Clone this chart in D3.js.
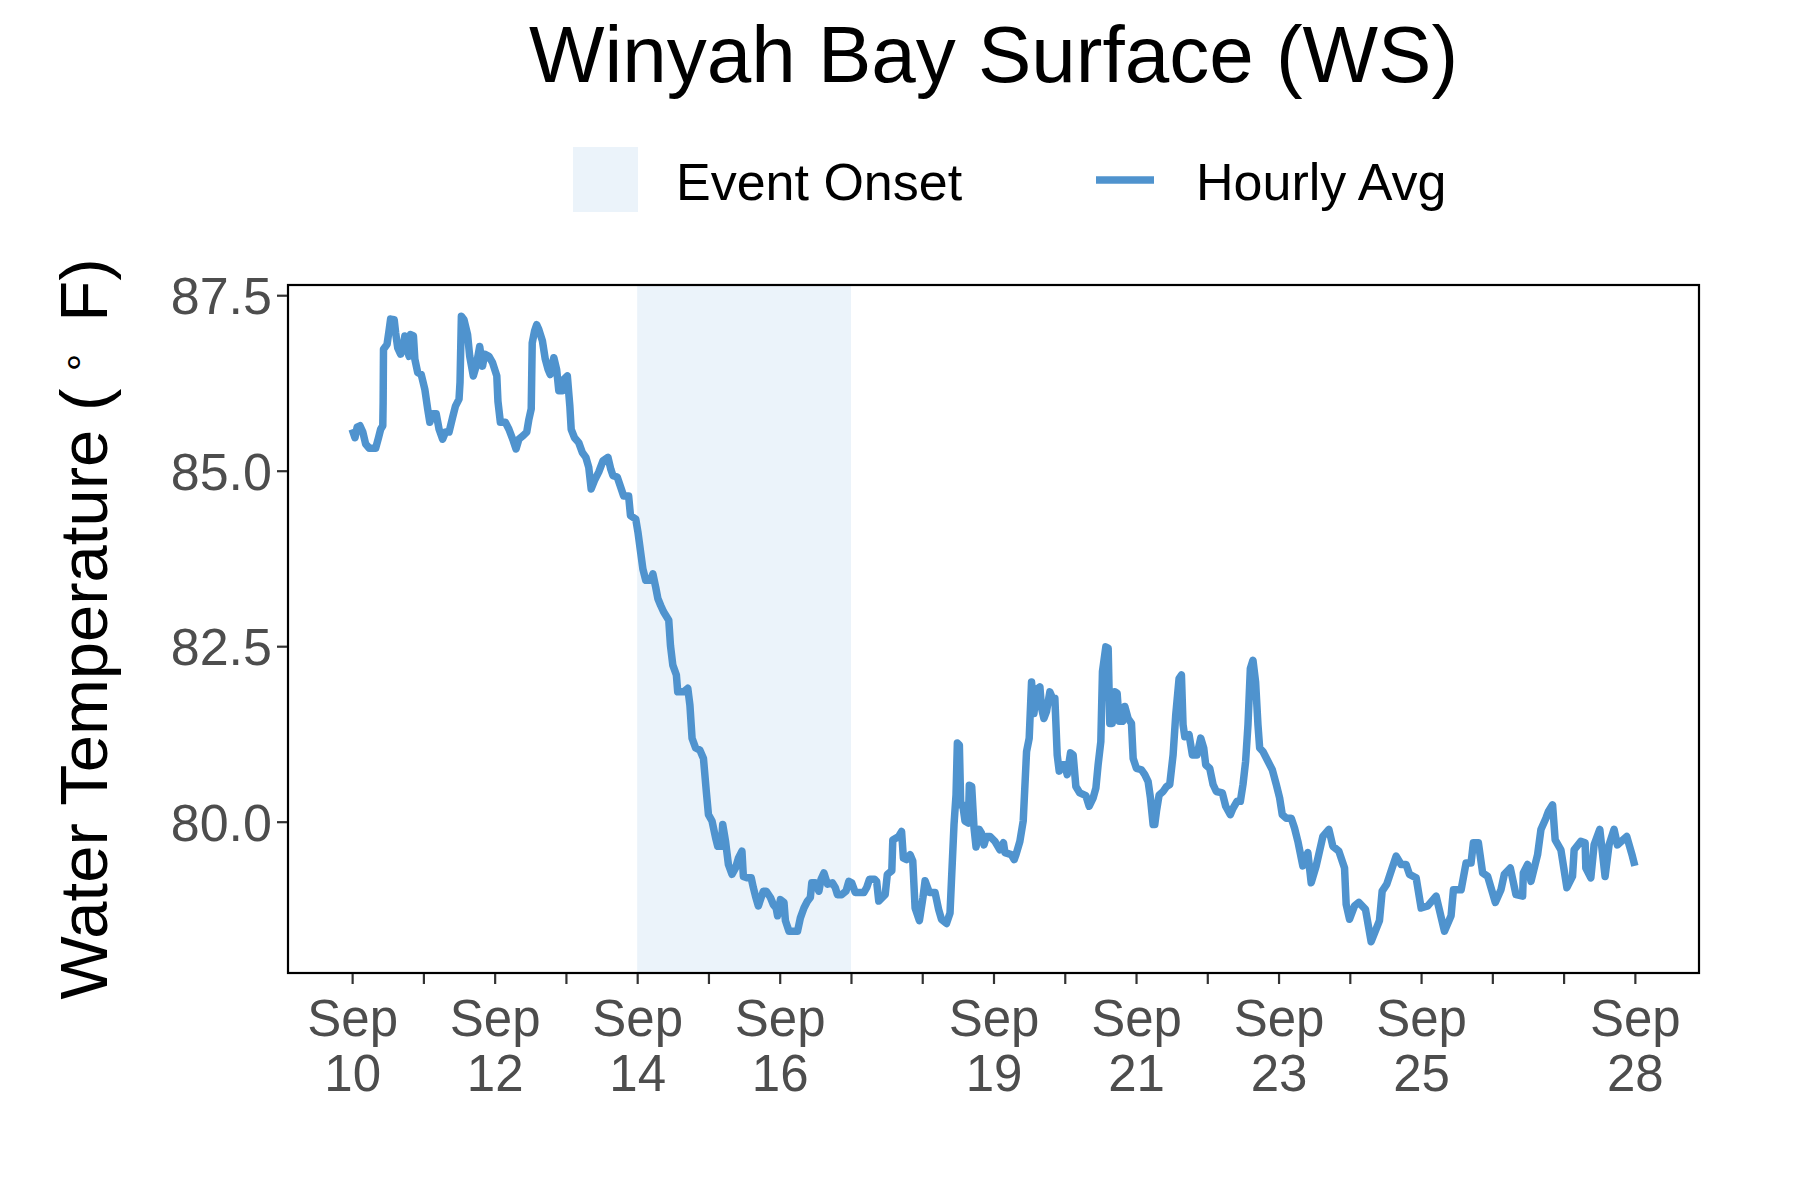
<!DOCTYPE html>
<html><head><meta charset="utf-8">
<script src="https://cdn.jsdelivr.net/npm/d3@7"></script>
<style>body{margin:0;background:#fff}</style>
</head><body><svg id="chart" width="1800" height="1200"></svg>
<script>
// ---------- data ----------
const startDate = "2023-09-10T00:00:00Z";
const dayOffsets = [
0.00,0.04,0.07,0.11,0.15,0.19,0.24,0.33,0.37,0.40,0.43,0.435,0.44,0.49,0.52,0.54,0.59,0.61,0.64,0.68,
0.71,0.74,0.77,0.80,0.82,0.86,0.88,0.92,0.97,1.02,1.06,1.09,1.13,1.18,1.22,1.27,1.31,1.36,1.41,1.45,
1.50,1.514,1.533,1.57,1.62,1.65,1.70,1.74,1.79,1.83,1.86,1.92,1.97,2.03,2.046,2.08,2.15,2.20,2.26,2.30,
2.34,2.40,2.45,2.48,2.513,2.527,2.56,2.59,2.62,2.67,2.71,2.75,2.78,2.83,2.87,2.90,2.95,2.97,3.02,3.055,
3.074,3.12,3.18,3.23,3.28,3.32,3.354,3.40,3.46,3.52,3.59,3.63,3.66,3.72,3.77,3.81,3.88,3.906,3.98,4.01,
4.08,4.12,4.19,4.22,4.26,4.29,4.33,4.37,4.443,4.467,4.50,4.55,4.569,4.65,4.71,4.74,4.77,4.82,4.88,4.93,
4.97,5.00,5.05,5.10,5.13,5.18,5.20,5.24,5.28,5.33,5.38,5.42,5.47,5.49,5.54,5.60,5.63,5.66,5.70,5.73,
5.77,5.81,5.87,5.91,5.95,5.97,6.01,6.06,6.08,6.13,6.19,6.25,6.29,6.34,6.39,6.43,6.45,6.50,6.55,6.58,
6.62,6.67,6.74,6.78,6.81,6.87,6.93,6.97,7.01,7.06,7.18,7.22,7.26,7.33,7.36,7.39,
7.48,7.51,7.573,7.587,7.67,7.71,7.736,7.78,7.83,7.867,7.90,7.96,8.01,8.04,8.10,8.18,8.23,8.27,8.34,8.39,
8.414,8.446,8.474,8.493,8.521,8.540,8.568,8.60,8.647,8.661,8.694,8.727,8.755,8.80,8.83,8.867,8.90,8.95,9.02,9.09,
9.14,9.16,9.25,9.29,9.315,9.37,9.417,9.464,9.501,9.534,9.567,9.604,9.651,9.674,9.707,9.744,9.791,9.828,9.861,9.894,
9.922,9.968,10.00,10.034,10.081,10.118,10.156,10.211,10.296,10.343,10.399,10.437,10.468,10.506,10.529,10.576,10.609,10.632,10.665,10.679,
10.702,10.735,10.763,10.810,10.843,10.889,10.936,10.960,11.006,11.076,11.123,11.170,11.202,11.240,11.263,11.287,11.324,11.380,11.427,11.473,
11.520,11.557,11.604,11.637,11.660,11.684,11.744,11.791,11.856,11.908,11.950,11.978,12.034,12.081,12.127,12.211,12.258,12.323,12.361,12.417,
12.464,12.501,12.538,12.571,12.604,12.641,12.678,12.711,12.735,12.781,12.851,12.912,12.968,13.015,13.052,13.108,13.178,13.224,13.271,
13.341,13.411,13.458,13.528,13.622,13.706,13.762,13.846,13.926,13.949,13.996,14.066,14.126,14.220,14.299,14.416,14.454,14.519,14.594,14.650,
14.720,14.790,14.837,14.931,15.001,15.094,15.211,15.328,15.421,15.454,15.562,15.631,15.701,15.734,15.804,15.864,15.935,16.042,16.121,16.168,
16.252,16.332,16.425,16.435,16.495,16.542,16.635,16.682,16.752,16.789,16.845,16.882,16.962,17.046,17.125,17.148,17.242,17.302,17.312,17.382,
17.428,17.508,17.582,17.638,17.708,17.755,17.886,17.965,18.00
];
const temps = [
85.59,85.47,85.62,85.64,85.55,85.38,85.32,85.32,85.47,85.59,85.64,85.97,86.73,86.80,87.01,87.16,87.15,86.97,86.75,86.66,
86.73,86.92,86.73,86.63,86.94,86.92,86.59,86.40,86.37,86.16,85.88,85.69,85.81,85.81,85.59,85.45,85.55,85.55,85.76,85.92,
86.02,86.26,87.20,87.15,86.94,86.63,86.35,86.49,86.77,86.49,86.66,86.63,86.54,86.35,85.99,85.69,85.69,85.59,85.43,85.31,
85.45,85.50,85.55,85.73,85.88,86.82,86.99,87.08,87.01,86.85,86.59,86.44,86.37,86.61,86.44,86.14,86.14,86.30,86.35,85.92,
85.59,85.47,85.40,85.26,85.19,85.05,84.74,84.86,84.98,85.14,85.19,85.02,84.93,84.91,84.76,84.64,84.64,84.36,84.31,84.13,
83.60,83.44,83.44,83.53,83.34,83.18,83.08,82.99,82.87,82.51,82.23,82.09,81.85,81.85,81.90,81.66,81.19,81.05,81.02,80.90,
80.43,80.10,80.01,79.77,79.65,79.65,79.96,79.72,79.39,79.25,79.34,79.48,79.58,79.22,79.20,79.20,79.06,78.94,78.80,78.89,
79.01,79.01,78.92,78.82,78.77,78.66,78.89,78.85,78.59,78.44,78.44,78.44,78.63,78.77,78.87,78.92,79.13,79.13,79.01,79.18,
79.27,79.11,79.13,79.06,78.96,78.96,79.01,79.15,79.13,78.99,78.99,79.06,79.18,79.18,79.15,78.87,
78.96,79.25,79.30,79.74,79.79,79.86,79.48,79.46,79.53,79.44,78.77,78.59,78.92,79.16,78.99,78.99,78.75,78.61,78.55,78.70,
79.25,79.96,80.38,81.12,81.09,80.24,80.24,80.01,79.98,80.52,80.50,79.91,79.64,79.89,79.84,79.67,79.79,79.79,79.72,79.60,
79.70,79.56,79.53,79.46,79.53,79.72,80.01,81.00,81.19,81.99,81.54,81.88,81.92,81.62,81.47,81.57,81.85,81.76,81.76,80.95,
80.72,80.81,80.81,80.67,80.98,80.95,80.50,80.41,80.37,80.22,80.34,80.48,80.81,81.14,82.14,82.49,82.47,81.40,81.40,81.52,
81.85,81.83,81.43,81.43,81.64,81.47,81.40,80.90,80.76,80.74,80.67,80.57,80.34,79.96,79.96,80.15,80.38,80.43,80.50,80.53,
80.95,81.52,82.04,82.09,81.38,81.21,81.24,80.95,80.95,81.19,81.05,80.81,80.76,80.53,80.43,80.41,80.22,80.10,80.19,80.29,
80.29,80.53,80.86,81.38,82.18,82.30,81.99,81.38,81.05,81.00,80.86,80.74,80.53,80.34,80.10,80.05,80.05,79.91,79.72,
79.37,79.56,79.13,79.37,79.79,79.89,79.65,79.58,79.34,78.82,78.61,78.80,78.85,78.75,78.29,78.59,79.01,79.11,79.34,79.51,
79.39,79.39,79.25,79.20,78.77,78.80,78.94,78.44,78.66,79.03,79.03,79.41,79.41,79.70,79.70,79.27,79.22,78.85,79.03,79.25,
79.34,78.96,78.94,79.27,79.39,79.15,79.53,79.89,80.05,80.15,80.24,79.74,79.60,79.06,79.22,79.60,79.72,79.70,79.34,79.20,
79.67,79.89,79.22,79.67,79.89,79.67,79.79,79.51,79.37
];
const eventOnset = ["2023-09-14T00:00:00Z", "2023-09-17T00:00:00Z"];
const yTickValues = [80.0, 82.5, 85.0, 87.5];
const xTickFirst = "2023-09-10T00:00:00Z";
const xTickLast = "2023-09-28T00:00:00Z";
const xLabelDays = [10, 12, 14, 16, 19, 21, 23, 25, 28];
const chartTitle = "Winyah Bay Surface (WS)";
const legendLabels = ["Event Onset", "Hourly Avg"];

// ---------- layout ----------
const W = 1800, H = 1200;
const panel = {left: 288, right: 1699, top: 285, bottom: 973};
const FONT = "'Liberation Sans', Arial, Helvetica, sans-serif";
const lineColor = "#4f93ce";
const shadeColor = "#ebf3fa";

const t0 = new Date(startDate).getTime();
const data = dayOffsets.map((d, i) => ({date: new Date(t0 + d * 864e5), temp: temps[i]}));

const svg = d3.select("#chart");
svg.append("rect").attr("width", W).attr("height", H).attr("fill", "#fff");

const xExt = d3.extent(data, d => d.date.getTime());
const xPad = (xExt[1] - xExt[0]) * 0.05;
const x = d3.scaleUtc().domain([new Date(xExt[0] - xPad), new Date(xExt[1] + xPad)]).range([panel.left, panel.right]);
const yExt = d3.extent(data, d => d.temp);
const yPad = (yExt[1] - yExt[0]) * 0.05;
const y = d3.scaleLinear().domain([yExt[0] - yPad, yExt[1] + yPad]).range([panel.bottom, panel.top]);

// clip
svg.append("clipPath").attr("id", "clip").append("rect")
  .attr("x", panel.left).attr("y", panel.top)
  .attr("width", panel.right - panel.left).attr("height", panel.bottom - panel.top);

const g = svg.append("g").attr("clip-path", "url(#clip)");

// event onset shading
g.append("rect")
  .attr("x", x(new Date(eventOnset[0])))
  .attr("width", x(new Date(eventOnset[1])) - x(new Date(eventOnset[0])))
  .attr("y", panel.top).attr("height", panel.bottom - panel.top)
  .attr("fill", shadeColor);

// line
g.append("path").datum(data)
  .attr("d", d3.line().x(d => x(d.date)).y(d => y(d.temp)))
  .attr("fill", "none").attr("stroke", lineColor).attr("stroke-width", 7.5)
  .attr("stroke-linejoin", "round").attr("stroke-linecap", "butt");

// panel border
svg.append("rect")
  .attr("x", panel.left).attr("y", panel.top)
  .attr("width", panel.right - panel.left).attr("height", panel.bottom - panel.top)
  .attr("fill", "none").attr("stroke", "#000").attr("stroke-width", 2.2);

// y axis
const yAxis = d3.axisLeft(y).tickValues(yTickValues).tickFormat(d3.format(".1f")).tickSize(10).tickPadding(5);
const ya = svg.append("g").attr("transform", `translate(${panel.left - 1},0)`).call(yAxis);
ya.select(".domain").remove();
ya.selectAll(".tick line").attr("stroke", "#333").attr("stroke-width", 2.2);
ya.selectAll(".tick text").attr("font-family", FONT).attr("font-size", 52).attr("fill", "#4d4d4d").attr("dy", "0.36em");

// x axis
const xTicks = d3.utcDay.range(new Date(xTickFirst), new Date(new Date(xTickLast).getTime() + 1));
const xAxis = d3.axisBottom(x).tickValues(xTicks).tickSize(10).tickFormat("");
const xa = svg.append("g").attr("transform", `translate(0,${panel.bottom + 1})`).call(xAxis);
xa.select(".domain").remove();
xa.selectAll(".tick line").attr("stroke", "#333").attr("stroke-width", 2.2);
const monthFmt = d3.utcFormat("%b");
xa.selectAll(".tick").each(function(d) {
  const day = d.getUTCDate();
  if (!xLabelDays.includes(day)) return;
  const t = d3.select(this).append("text")
    .attr("font-family", FONT).attr("font-size", 51).attr("fill", "#4d4d4d")
    .attr("text-anchor", "middle");
  t.append("tspan").attr("x", 0).attr("y", 62).text(monthFmt(d));
  t.append("tspan").attr("x", 0).attr("y", 117).text(day);
});

// y axis title
const yt = svg.append("text")
  .attr("transform", `translate(107,${(panel.top + panel.bottom) / 2}) rotate(-90)`)
  .attr("text-anchor", "middle").attr("font-family", FONT).attr("font-size", 67).attr("fill", "#000");
yt.append("tspan").text("Water Temperature (");
yt.append("tspan").attr("dx", 14).attr("dy", -20).attr("font-size", 40).text("∘");
yt.append("tspan").attr("dx", 28).attr("dy", 20).text("F)");

// title
svg.append("text")
  .attr("x", (panel.left + panel.right) / 2).attr("y", 82)
  .attr("text-anchor", "middle").attr("font-family", FONT).attr("font-size", 80).attr("fill", "#000")
  .text(chartTitle);

// legend
const lg = svg.append("g");
lg.append("rect").attr("x", 573).attr("y", 147).attr("width", 65).attr("height", 65).attr("fill", shadeColor);
lg.append("text").attr("x", 676).attr("y", 200).attr("font-family", FONT).attr("font-size", 52).attr("fill", "#000").text(legendLabels[0]);
lg.append("line").attr("x1", 1096).attr("x2", 1154).attr("y1", 180).attr("y2", 180).attr("stroke", lineColor).attr("stroke-width", 7.5);
lg.append("text").attr("x", 1196).attr("y", 200).attr("font-family", FONT).attr("font-size", 52).attr("fill", "#000").text(legendLabels[1]);
</script>
</body></html>
